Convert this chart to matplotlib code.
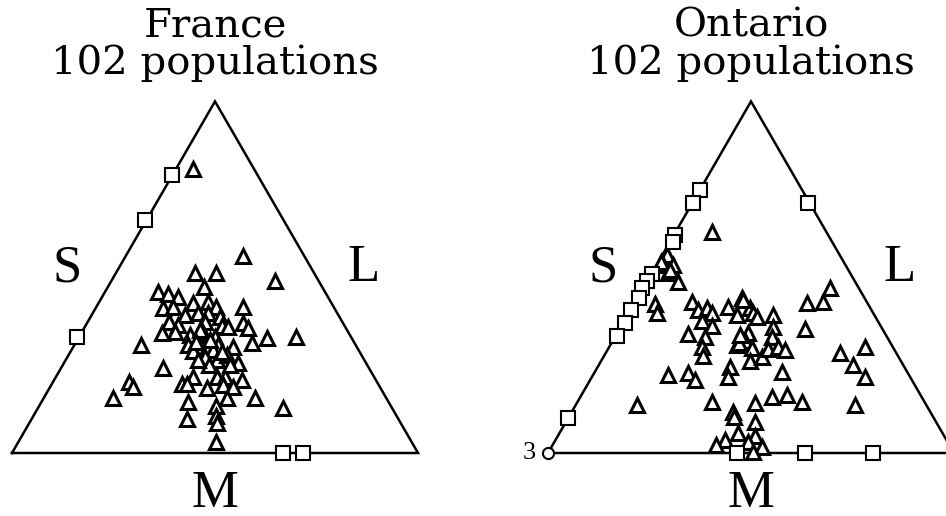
import matplotlib
matplotlib.use("Agg")
import matplotlib.pyplot as plt
import numpy as np

# positions inside each triangle: x along the M base (0-100), y height (0-86.6)
# France
fr_tri_x = [44.5, 57.0, 64.9, 45.1, 50.2, 47.3, 36.0, 38.5, 41.0, 37.3,
            39.7, 44.7, 48.3, 50.2, 57.0, 42.6, 45.9, 48.3, 51.2, 38.7,
            41.0, 47.5, 51.7, 57.0, 58.2, 53.3, 36.9, 40.1, 43.8, 47.1,
            50.0, 46.3, 62.7, 69.9, 31.7, 43.4, 46.7, 50.8, 54.5, 59.0,
            44.7, 48.0, 49.6, 47.5, 50.4, 52.9, 55.7, 37.3, 44.7, 50.4,
            52.5, 56.6, 28.9, 29.9, 41.8, 43.0, 48.0, 52.0, 54.5, 24.9,
            43.4, 50.2, 53.0, 59.8, 66.7, 43.0, 50.2, 50.4, 50.2, 48.8,
            45.3, 51.7, 53.7, 48.5, 45.8]
fr_tri_y = [69.9, 48.6, 42.4, 44.3, 44.3, 41.0, 39.7, 39.1, 38.5, 35.6,
            36.0, 36.9, 37.3, 36.0, 36.0, 34.0, 34.4, 34.4, 33.6, 32.3,
            31.5, 32.3, 31.3, 31.9, 30.7, 31.1, 29.5, 29.9, 29.1, 29.5,
            28.6, 30.3, 28.3, 28.5, 26.6, 26.6, 26.2, 26.6, 26.2, 27.0,
            25.1, 25.9, 25.4, 23.7, 22.9, 24.1, 22.1, 20.9, 18.8, 18.8,
            18.8, 18.0, 17.6, 16.3, 16.9, 16.9, 16.1, 16.7, 16.3, 13.6,
            12.6, 11.6, 13.5, 13.5, 11.2, 8.4, 9.1, 7.3, 2.8, 27.8,
            27.3, 24.9, 21.7, 21.7, 22.9]
fr_sq_x = [39.5, 32.8, 15.9, 66.8, 71.7]
fr_sq_y = [68.5, 57.4, 28.5, 0.0, 0.0]

# Ontario
on_tri_x = [40.3, 29.2, 28.4, 30.9, 29.6, 32.1, 26.4, 26.8, 35.4, 37.0,
            39.1, 40.3, 37.9, 40.3, 34.6, 38.7, 37.9, 38.1, 44.4, 47.7,
            46.5, 49.8, 50.6, 49.3, 46.5, 48.5, 50.2, 49.8, 52.6, 55.5,
            55.5, 55.1, 54.3, 56.7, 58.4, 57.6, 44.8, 44.4, 29.6, 34.6,
            36.2, 21.8, 63.9, 67.8, 69.5, 63.3, 71.9, 78.0, 75.1, 78.0,
            75.6, 40.3, 45.6, 45.8, 51.0, 55.1, 58.8, 62.6, 51.0, 51.0,
            46.9, 43.7, 41.5, 49.3, 52.6, 50.4, 47.0, 48.0, 51.5, 47.3,
            27.9, 30.0]
on_tri_y = [54.5, 48.8, 46.3, 46.3, 44.3, 42.2, 36.7, 34.6, 37.1, 35.2,
            35.8, 34.5, 32.5, 31.3, 29.3, 28.6, 26.0, 24.0, 36.0, 38.3,
            34.0, 35.6, 34.4, 29.5, 26.6, 27.6, 25.8, 22.7, 23.7, 33.9,
            31.1, 28.6, 25.6, 26.2, 25.4, 20.0, 21.3, 18.8, 19.2, 19.8,
            18.0, 11.8, 36.9, 37.3, 40.6, 30.5, 24.6, 26.2, 21.7, 18.8,
            11.8, 12.6, 10.2, 8.9, 12.2, 13.8, 14.4, 12.6, 7.7, 4.2,
            4.9, 3.2, 2.0, 2.6, 1.6, 0.3, 27.1, 37.7, 33.5, 29.1,
            47.0, 45.1]
on_sq_x = [37.4, 35.8, 31.2, 30.8, 25.5, 24.4, 23.2, 22.3, 20.4, 19.0,
           16.9, 5.0, 64.1, 46.5, 63.3, 80.1]
on_sq_y = [64.8, 61.6, 53.8, 52.0, 44.0, 42.4, 40.6, 38.3, 35.2, 32.0,
           28.8, 8.5, 61.6, 0.0, 0.0, 0.0]
on_circle = (0.0, 0.0)
on_circle_n = "3"

titles = ["France\n102 populations", "Ontario\n102 populations"]
side_labels = ["S", "L", "M"]

plt.rcParams['font.family'] = ['Liberation Serif', 'DejaVu Serif']

W, H = 946, 516
fig = plt.figure(figsize=(W / 100, H / 100), dpi=100)
h = 100 * np.sqrt(3) / 2
base_px = 406


def make_ax(left_px):
    ax = fig.add_axes([left_px / W, 63 / H, base_px / W, base_px * np.sqrt(3) / 2 / H])
    ax.set_xlim(0, 100)
    ax.set_ylim(0, h)
    ax.set_aspect('equal')
    ax.axis('off')
    ax.plot([0, 100, 50, 0], [0, 0, h, 0], color='black', lw=1.8, clip_on=False,
            zorder=1, solid_joinstyle='miter')
    return ax


def draw(ax, tx, ty, sx, sy, title):
    ax.plot(tx, ty, ls='none', marker='^', ms=9.6, mfc='white', mec='black',
            mew=2.2, clip_on=False, zorder=2)
    ax.plot(sx, sy, ls='none', marker='s', ms=9.4, mfc='white', mec='black',
            mew=1.5, clip_on=False, zorder=3)
    ax.text(50, 91.4, title, ha='center', va='bottom', multialignment='center',
            fontsize=29, family='DejaVu Serif', linespacing=1.0)
    ax.text(13.5, 45.5, side_labels[0], ha='center', va='center', fontsize=38)
    ax.text(86.5, 45.5, side_labels[1], ha='center', va='center', fontsize=38)
    ax.text(50, -10, side_labels[2], ha='center', va='center', fontsize=38)


ax1 = make_ax(12)
draw(ax1, fr_tri_x, fr_tri_y, fr_sq_x, fr_sq_y, titles[0])

ax2 = make_ax(548)
draw(ax2, on_tri_x, on_tri_y, on_sq_x, on_sq_y, titles[1])
ax2.plot(*on_circle, ls='none', marker='o', ms=8, mfc='white', mec='black',
         mew=1.5, clip_on=False, zorder=3)
ax2.text(on_circle[0] - 3.0, on_circle[1], on_circle_n, ha='right', va='center', fontsize=19)

fig.savefig('out.png', dpi=100)
